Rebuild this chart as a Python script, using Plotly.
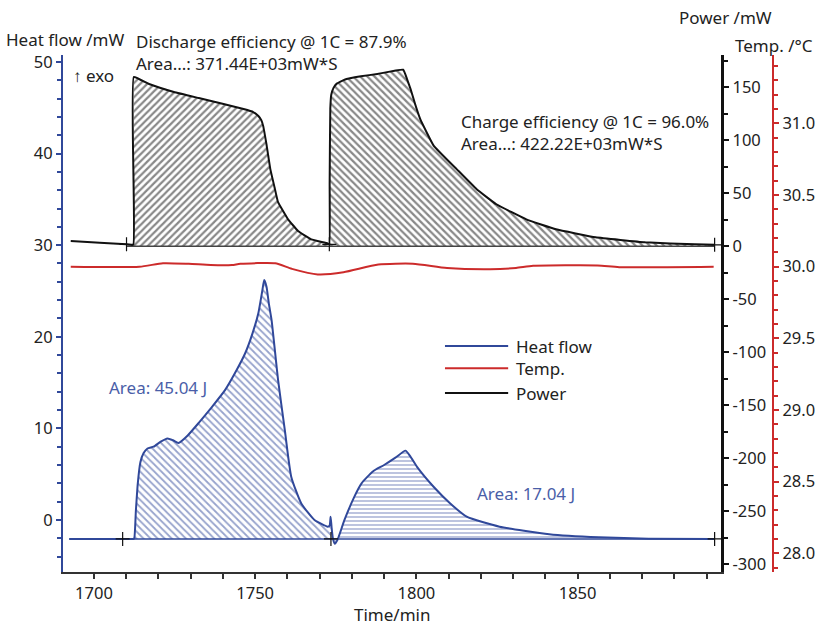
import numpy as np
import plotly.graph_objects as go

# ---------------- data ----------------
# Heat flow (mW) against time (min)
hf_time = [1692.3, 1708.9, 1712.2, 1712.5, 1713.0, 1713.6, 1714.4, 1715.4, 1716.6, 1718.5,
           1720.7, 1722.8, 1724.5, 1726.2, 1729.0, 1732.5, 1736.5, 1740.7, 1744.0, 1746.9,
           1749.2, 1751.0, 1752.2, 1752.8, 1753.5, 1754.3, 1755.1, 1757.1, 1759.2, 1761.2,
           1764.3, 1768.4, 1772.5, 1773.1, 1773.4, 1773.7, 1774.1, 1774.7, 1775.5, 1777.7,
           1780.7, 1783.0, 1786.5, 1790.0, 1793.5, 1796.6, 1798.0, 1800.2, 1805.4, 1810.5,
           1815.6, 1825.8, 1841.2, 1856.6, 1872.0, 1892.5]
hf_value = [-2.07, -2.07, -2.07, -2.0, 1.0, 4.0, 6.3, 7.3, 7.8, 8.0,
            8.55, 8.9, 8.7, 8.4, 9.2, 10.6, 12.3, 14.2, 16.2, 18.2,
            20.4, 22.6, 25.0, 26.2, 25.5, 23.5, 21.8, 15.3, 9.8, 4.7,
            1.8, 0.0, -0.73, -0.6, 0.36, -0.8, -2.0, -2.6, -2.2, 0.0,
            2.5, 4.0, 5.3, 6.0, 6.8, 7.57, 7.0, 5.8, 3.6, 1.8,
            0.36, -0.73, -1.56, -1.9, -2.04, -2.07]

# Cell power (mW) against time (min)
pw_time = [1692.8, 1701.8, 1710.1, 1712.2, 1712.35, 1717.1, 1724.8, 1732.5, 1740.2, 1746.4,
           1749.4, 1751.0, 1751.9, 1752.5, 1753.5, 1754.7, 1756.0, 1757.1, 1760.2, 1763.3,
           1767.4, 1772.5, 1773.0, 1773.1, 1773.3, 1773.6, 1774.3, 1775.3, 1777.7, 1782.8,
           1787.9, 1795.9, 1797.1, 1798.2, 1799.6, 1801.2, 1805.4, 1812.5, 1818.7, 1824.8,
           1834.1, 1843.3, 1855.6, 1871.0, 1886.4, 1892.5]
pw_value = [5.0, 3.3, 1.9, 1.4, 159.7, 153.1, 145.6, 139.9, 134.2, 129.5,
            126.7, 122.9, 119.1, 113.4, 96.4, 72.8, 55.8, 41.6, 25.5, 14.5,
            6.6, 2.8, 1.9, 60.0, 130.0, 143.0, 149.5, 153.5, 157.2, 160.4,
            162.6, 166.6, 157.8, 148.4, 134.2, 120.0, 94.8, 72.8, 53.9, 39.7,
            25.5, 16.1, 8.5, 3.8, 1.9, 1.4]

# Cell temperature (°C) against time (min)
tp_time = [1692.8, 1714.1, 1721.4, 1729.4, 1736.2, 1742.8, 1745.4, 1756.2, 1761.4, 1769.4,
           1777.4, 1788.2, 1798.9, 1809.5, 1822.9, 1830.9, 1836.2, 1856.2, 1862.9, 1892.2]
tp_value = [30.00, 30.00, 30.024, 30.02, 30.012, 30.012, 30.02, 30.024, 29.985, 29.946,
            29.961, 30.015, 30.021, 29.991, 29.982, 29.991, 30.006, 30.009, 29.997, 30.00]

# Integration limits and baselines
hf_baseline = -2.07
hf_limits = [1708.9, 1773.5, 1892.5]
pw_limits = [1710.1, 1773.0, 1892.5]

# Axis ticks
x_ticks = [1700, 1750, 1800, 1850]
hf_ticks = [0, 10, 20, 30, 40, 50]
pw_ticks = [-300, -250, -200, -150, -100, -50, 0, 50, 100, 150]
tp_ticks = [28.0, 28.5, 29.0, 29.5, 30.0, 30.5, 31.0]

# ---------------- style ----------------
BLUE = "#30489a"
BLUE_TXT = "#4a5ea8"
RED = "#cc2b2b"
BLACK = "#111111"
FONT = "Noto Sans"
TXT = "#222222"
TEXT_SIZE = 17
TICK_SIZE = 16.5

hf_t = np.array(hf_time)
hf_v = np.array(hf_value)
pw_t = np.array(pw_time)
pw_v = np.array(pw_value)

fig = go.Figure()


def heat_region(t0, t1):
    m = (hf_t >= t0) & (hf_t <= t1)
    xs = list(hf_t[m]) + [hf_t[m][-1], hf_t[m][0]]
    ys = list(hf_v[m]) + [hf_baseline, hf_baseline]
    return xs, ys


# hatched heat-flow peaks
for (t0, t1), shape, size, sol in [((hf_limits[0], hf_limits[1]), "\\", 5, 0.36),
                                   ((hf_limits[1], hf_limits[2]), "-", 4, 0.32)]:
    xs, ys = heat_region(t0, t1)
    fig.add_trace(go.Scatter(
        x=xs, y=ys, mode="lines", fill="toself",
        line=dict(width=0, color=BLUE), fillcolor="rgba(0,0,0,0)",
        fillpattern=dict(shape=shape, size=size, solidity=sol,
                         fgcolor=BLUE, bgcolor="rgba(255,255,255,0)"),
        hoverinfo="skip", showlegend=False, yaxis="y"))

# hatched power areas (discharge / charge)
for (t0, t1), shape in [((1712.3, pw_limits[1]), "/"), ((pw_limits[1], pw_limits[2]), "\\")]:
    m = (pw_t >= t0) & (pw_t <= t1)
    fig.add_trace(go.Scatter(
        x=pw_t[m], y=pw_v[m], mode="lines", fill="tozeroy",
        line=dict(width=0, color=BLACK, shape="spline", smoothing=0.3),
        fillcolor="rgba(0,0,0,0)",
        fillpattern=dict(shape=shape, size=5, solidity=0.45,
                         fgcolor=BLACK, bgcolor="rgba(255,255,255,0)"),
        hoverinfo="skip", showlegend=False, yaxis="y2"))

# baselines
fig.add_trace(go.Scatter(x=[hf_limits[0], hf_limits[-1]], y=[hf_baseline, hf_baseline],
                         mode="lines", line=dict(color=BLUE, width=1.5),
                         showlegend=False, yaxis="y"))
fig.add_trace(go.Scatter(x=[pw_limits[0], pw_limits[-1]], y=[0, 0],
                         mode="lines", line=dict(color="#444444", width=1.5),
                         showlegend=False, yaxis="y2"))

# curves
fig.add_trace(go.Scatter(x=tp_time, y=tp_value, mode="lines", name="Temp.",
                         line=dict(color=RED, width=2, shape="spline", smoothing=0.6),
                         yaxis="y3"))
fig.add_trace(go.Scatter(x=pw_time, y=pw_value, mode="lines", name="Power",
                         line=dict(color=BLACK, width=2, shape="spline", smoothing=0.3),
                         yaxis="y2"))
fig.add_trace(go.Scatter(x=hf_time, y=hf_value, mode="lines", name="Heat flow",
                         line=dict(color=BLUE, width=2, shape="spline", smoothing=0.5),
                         yaxis="y"))

# integration limit markers
fig.add_trace(go.Scatter(x=hf_limits, y=[hf_baseline] * len(hf_limits), mode="markers",
                         marker=dict(symbol="cross-thin", size=10,
                                     line=dict(color=BLACK, width=1.2)),
                         showlegend=False, yaxis="y"))
fig.add_trace(go.Scatter(x=pw_limits, y=list(np.interp(pw_limits, pw_t, pw_v)), mode="markers",
                         marker=dict(symbol="cross-thin", size=10,
                                     line=dict(color=BLACK, width=1.2)),
                         showlegend=False, yaxis="y2"))

# ---------------- axes ----------------
tickfont = dict(family=FONT, size=TICK_SIZE, color=TXT)
fig.update_layout(
    width=827, height=628,
    margin=dict(l=63, r=40, t=55, b=56),
    plot_bgcolor="white", paper_bgcolor="white",
    showlegend=False,
    font=dict(family=FONT, size=TEXT_SIZE, color=TXT),
    xaxis=dict(domain=[0, 0.917], range=[1690.4, 1894.6],
               tickvals=x_ticks, ticktext=[str(v) for v in x_ticks],
               showline=True, linecolor="#333333", linewidth=1.5,
               ticks="outside", ticklen=5, tickwidth=1.5, tickcolor="#333333",
               minor=dict(dtick=10, ticks="outside", ticklen=5, tickwidth=1.5, tickcolor="#333333"),
               showgrid=False, zeroline=False, tickfont=tickfont),
    yaxis=dict(range=[-5.68, 50.76], tickvals=hf_ticks, ticktext=[str(v) for v in hf_ticks],
               showline=True, linecolor=BLUE, linewidth=2,
               ticks="outside", ticklen=5, tickwidth=2, tickcolor=BLUE,
               minor=dict(dtick=2, ticks="outside", ticklen=4, tickwidth=2, tickcolor=BLUE),
               showgrid=False, zeroline=False, tickfont=tickfont),
    yaxis2=dict(range=[-307.2, 180.5], overlaying="y", side="right", anchor="x",
                tickvals=pw_ticks, ticktext=[str(v) for v in pw_ticks],
                showline=True, linecolor=BLACK, linewidth=2.5,
                ticks="outside", ticklen=5, tickwidth=2, tickcolor=BLACK,
                minor=dict(dtick=25, ticks="outside", ticklen=4, tickwidth=2, tickcolor=BLACK),
                showgrid=False, zeroline=False, tickfont=tickfont),
    yaxis3=dict(range=[27.87, 31.477], overlaying="y", side="right", anchor="free",
                position=0.989,
                tickvals=tp_ticks, ticktext=[f"{v:.1f}" for v in tp_ticks],
                showline=True, linecolor=RED, linewidth=2,
                ticks="outside", ticklen=5, tickwidth=2, tickcolor=RED,
                minor=dict(dtick=0.1, ticks="outside", ticklen=4, tickwidth=2, tickcolor=RED),
                showgrid=False, zeroline=False, tickfont=tickfont),
)

# ---------------- text ----------------
def note(text, x, y, xanchor="left", yanchor="middle", color=TXT, size=TEXT_SIZE):
    fig.add_annotation(text=text, x=x, y=y, xref="paper", yref="paper",
                       xanchor=xanchor, yanchor=yanchor, showarrow=False,
                       borderpad=0, align="left",
                       font=dict(family=FONT, size=size, color=color))


note("Heat flow /mW", -0.081, 1.030)
note("Discharge efficiency @ 1C = 87.9%<br>Area...: 371.44E+03mW*S", 0.100, 1.004)
note("↑ exo", 0.013, 0.961)
note("Charge efficiency @ 1C = 96.0%<br>Area...: 422.22E+03mW*S", 0.553, 0.851)
note("Area: 45.04 J", 0.063, 0.356, color=BLUE_TXT)
note("Area: 17.04 J", 0.575, 0.151, color=BLUE_TXT)
note("Power /mW", 0.857, 1.072)
note("Temp. /°C", 0.935, 1.019)
note("Time/min", 0.4585, -0.083, xanchor="center")

# legend: keys drawn as short lines, labels as one block
legend_rows = [("Heat flow", BLUE, 0.437), ("Temp.", RED, 0.394)]
for label, color, ypos in legend_rows:
    fig.add_shape(type="line", xref="paper", yref="paper", x0=0.532, x1=0.620,
                  y0=ypos, y1=ypos, line=dict(color=color, width=2))
note("<br>".join(r[0] for r in legend_rows), 0.630, 0.4155)
fig.add_shape(type="line", xref="paper", yref="paper", x0=0.532, x1=0.620,
              y0=0.346, y1=0.346, line=dict(color=BLACK, width=2))
note("Power", 0.630, 0.346)

fig.write_html("out.html")
